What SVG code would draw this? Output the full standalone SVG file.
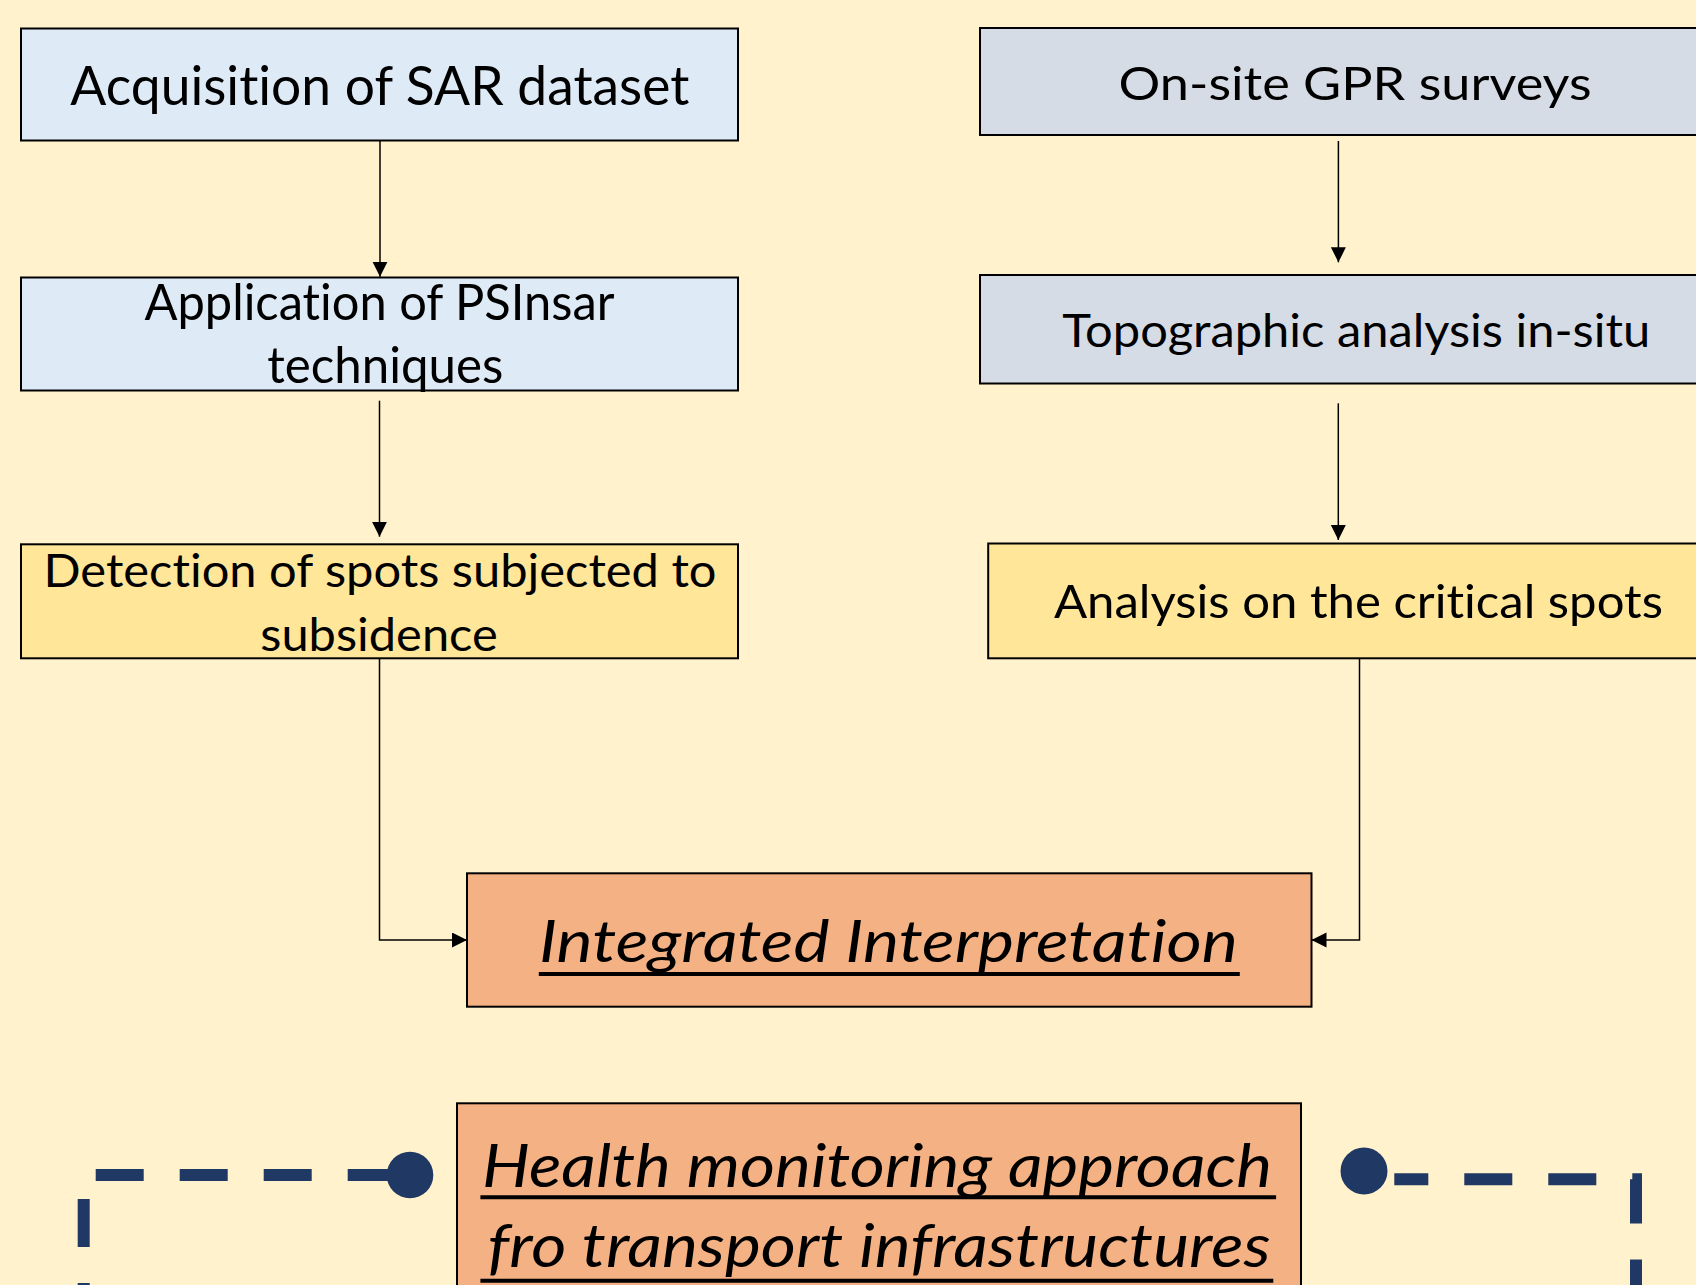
<svg xmlns="http://www.w3.org/2000/svg" width="1696" height="1285" viewBox="0 0 1696 1285">
  <style>
    .box { stroke: #000; stroke-width: 2; }
    .blue { fill: #DEEBF7; }
    .grey { fill: #D6DCE5; }
    .yellow { fill: #FFE699; }
    .orange { fill: #F4B183; }
    .lbl { font-family: Lato, "Open Sans", "Liberation Sans", sans-serif; fill: #000; text-anchor: middle; font-variant-ligatures: none; font-feature-settings: "liga" 0, "clig" 0; }
    .it { font-style: italic; }
    .ul { stroke: #000; stroke-width: 4; }
    .conn { fill: none; stroke: #000; stroke-width: 1.5; }
    .dash { fill: none; stroke: #203864; stroke-width: 12; stroke-dasharray: 48 36; stroke-linecap: butt; }
    .dot { fill: #203864; }
  </style>
  <defs>
    <marker id="arrow" markerUnits="userSpaceOnUse" markerWidth="16" markerHeight="16" refX="15" refY="7.5" orient="auto">
      <path d="M0,0 L15,7.5 L0,15 z" fill="#000"/>
    </marker>
  </defs>

  <rect width="1696" height="1285" fill="#FFF2CC"/>

  <g id="connectors">
    <path class="conn" d="M380,140.5 V276.7" marker-end="url(#arrow)"/>
    <path class="conn" d="M1338.4,141 V262.3" marker-end="url(#arrow)"/>
    <path class="conn" d="M379.5,400.7 V536.7" marker-end="url(#arrow)"/>
    <path class="conn" d="M1338.3,403.3 V540" marker-end="url(#arrow)"/>
    <path class="conn" d="M379.5,658.3 V940 H467" marker-end="url(#arrow)"/>
    <path class="conn" d="M1359.5,658.3 V940 H1311.5" marker-end="url(#arrow)"/>
  </g>

  <g id="sar-acquisition">
    <rect class="box blue" x="21" y="28.5" width="717" height="112"/>
    <text class="lbl" x="379.8" y="105" font-size="54" textLength="619" lengthAdjust="spacingAndGlyphs">Acquisition of SAR dataset</text>
  </g>

  <g id="psinsar">
    <rect class="box blue" x="21" y="277.5" width="717" height="113"/>
    <text class="lbl" x="379.5" y="320" font-size="49.5" textLength="470" lengthAdjust="spacingAndGlyphs">Application of PSInsar</text>
    <text class="lbl" x="385.3" y="383" font-size="49.5" textLength="236" lengthAdjust="spacingAndGlyphs">techniques</text>
  </g>

  <g id="subsidence-spots">
    <rect class="box yellow" x="21" y="544.3" width="717" height="114"/>
    <text class="lbl" x="380" y="587.3" font-size="47" textLength="673" lengthAdjust="spacingAndGlyphs">Detection of spots subjected to</text>
    <text class="lbl" x="379" y="650.7" font-size="47" textLength="237.5" lengthAdjust="spacingAndGlyphs">subsidence</text>
  </g>

  <g id="gpr-surveys">
    <rect class="box grey" x="980" y="28" width="730" height="107"/>
    <text class="lbl" x="1355.1" y="100" font-size="46.5" textLength="473" lengthAdjust="spacingAndGlyphs">On-site GPR surveys</text>
  </g>

  <g id="topographic">
    <rect class="box grey" x="980" y="275" width="730" height="108.5"/>
    <text class="lbl" x="1356.2" y="346.7" font-size="47" textLength="588" lengthAdjust="spacingAndGlyphs">Topographic analysis in-situ</text>
  </g>

  <g id="critical-spots">
    <rect class="box yellow" x="988.2" y="543.5" width="730" height="114.8"/>
    <text class="lbl" x="1358.4" y="618.3" font-size="47" textLength="609" lengthAdjust="spacingAndGlyphs">Analysis on the critical spots</text>
  </g>

  <g id="integrated">
    <rect class="box orange" x="467" y="873.3" width="844.5" height="133.4"/>
    <text class="lbl it" x="888.4" y="961.7" font-size="59" textLength="699" lengthAdjust="spacingAndGlyphs">Integrated Interpretation</text>
    <line class="ul" x1="538.8" y1="974" x2="1239.8" y2="974"/>
  </g>

  <g id="health-monitoring">
    <rect class="box orange" x="457" y="1103.3" width="844" height="220"/>
    <text class="lbl it" x="877" y="1186.7" font-size="60" textLength="790" lengthAdjust="spacingAndGlyphs">Health monitoring approach</text>
    <line class="ul" x1="480.4" y1="1197.3" x2="1276.1" y2="1197.3"/>
    <text class="lbl it" x="879.1" y="1266.7" font-size="60" textLength="783" lengthAdjust="spacingAndGlyphs">fro transport infrastructures</text>
    <line class="ul" x1="480.4" y1="1280.7" x2="1273.3" y2="1280.7"/>
  </g>

  <g id="feedback-links">
    <path class="dash" d="M395.7,1175 H83.7 V1320"/>
    <circle class="dot" cx="410" cy="1175" r="23.3"/>
    <path class="dash" d="M1394.3,1179.3 H1636 V1320" stroke-dashoffset="14"/>
    <circle class="dot" cx="1364" cy="1171" r="23.5"/>
  </g>
</svg>
